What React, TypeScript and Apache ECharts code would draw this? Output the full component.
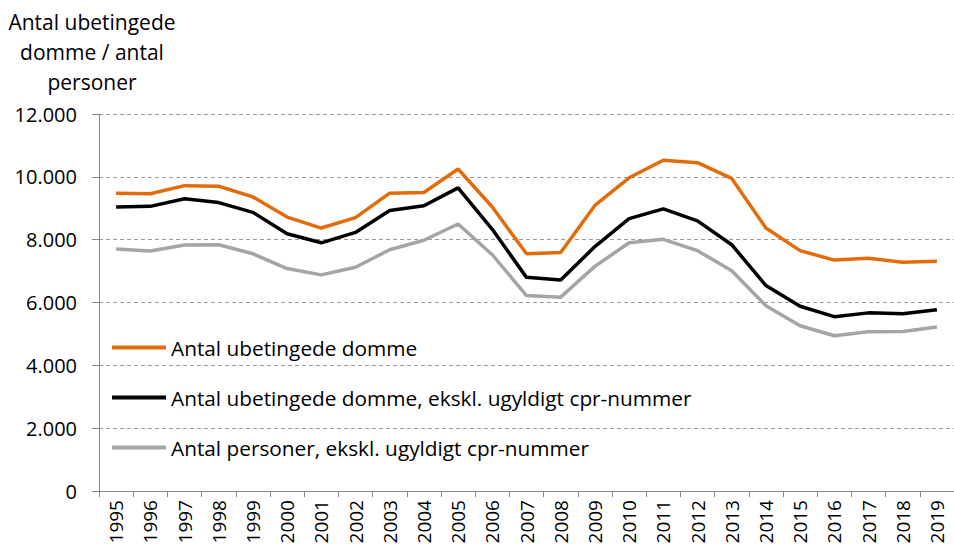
import React, { useEffect, useRef } from "react";
import * as echarts from "echarts";

const years = ["1995","1996","1997","1998","1999","2000","2001","2002","2003","2004","2005","2006","2007","2008","2009","2010","2011","2012","2013","2014","2015","2016","2017","2018","2019"];
const domme = [9480,9460,9720,9700,9360,8720,8370,8700,9480,9500,10250,9040,7550,7590,9090,9970,10530,10450,9950,8370,7650,7350,7410,7280,7310];
const dommeEkskl = [9040,9060,9300,9180,8870,8190,7900,8230,8930,9080,9650,8330,6800,6720,7780,8670,8980,8600,7840,6540,5880,5550,5670,5640,5770];
const personer = [7700,7640,7830,7840,7550,7080,6880,7120,7680,7980,8500,7520,6220,6170,7150,7900,8010,7650,7010,5900,5260,4940,5070,5080,5220];
const yTicks = { min: 0, max: 12000, interval: 2000 };
const seriesNames = ["Antal ubetingede domme", "Antal ubetingede domme, ekskl. ugyldigt cpr-nummer", "Antal personer, ekskl. ugyldigt cpr-nummer"];
const colors = ["#E36C0A", "#000000", "#A5A5A5"];

const FONT = "'Open Sans', Lato, sans-serif";

export default function App() {
  const ref = useRef<HTMLDivElement>(null);
  useEffect(() => {
    if (!ref.current) return;
    const chart = echarts.init(ref.current, null, { renderer: "svg" });
    const data = [domme, dommeEkskl, personer];
    chart.setOption({
      animation: false,
      textStyle: { fontFamily: FONT },
      graphic: [
        {
          type: "text",
          x: 92,
          y: 7,
          style: {
            text: "Antal ubetingede\ndomme / antal\npersoner",
            textAlign: "center",
            fontFamily: FONT,
            fontSize: 21,
            lineHeight: 30,
            fill: "#000",
          },
        },
      ],
      grid: { left: 99, right: -4, top: 114, bottom: 63, containLabel: false },
      legend: {
        orient: "vertical",
        left: 107,
        top: 332,
        icon: "rect",
        itemWidth: 54,
        itemHeight: 4,
        itemGap: 29,
        textStyle: { fontFamily: FONT, fontSize: 20.8, color: "#000", lineHeight: 20 },
        data: seriesNames,
      },
      xAxis: {
        type: "category",
        data: years,
        boundaryGap: true,
        axisLine: { lineStyle: { color: "#898989", width: 1 } },
        axisTick: { show: true, length: 6, lineStyle: { color: "#898989" } },
        axisLabel: { rotate: 90, fontFamily: FONT, fontSize: 19, color: "#000", margin: 9, interval: 0 },
        splitLine: { show: false },
      },
      yAxis: {
        type: "value",
        min: yTicks.min,
        max: yTicks.max,
        interval: yTicks.interval,
        axisLine: { show: true, lineStyle: { color: "#898989", width: 1 } },
        axisTick: { show: true, length: 7, lineStyle: { color: "#898989" } },
        axisLabel: {
          fontFamily: FONT,
          fontSize: 20,
          color: "#000",
          margin: 22,
          formatter: (v: number) => String(v).replace(/\B(?=(\d{3})+(?!\d))/g, "."),
        },
        splitLine: { show: true, lineStyle: { color: "#999999", type: [4, 3], width: 1 } },
      },
      series: data.map((d, i) => ({
        name: seriesNames[i],
        type: "line",
        data: d,
        showSymbol: false,
        symbol: "none",
        lineStyle: { color: colors[i], width: 3.5 },
        itemStyle: { color: colors[i] },
        z: 3 - i,
      })),
    });
    return () => chart.dispose();
  }, []);
  return <div ref={ref} style={{ width: 954, height: 554, position: "absolute", left: 0, top: 0 }} />;
}
